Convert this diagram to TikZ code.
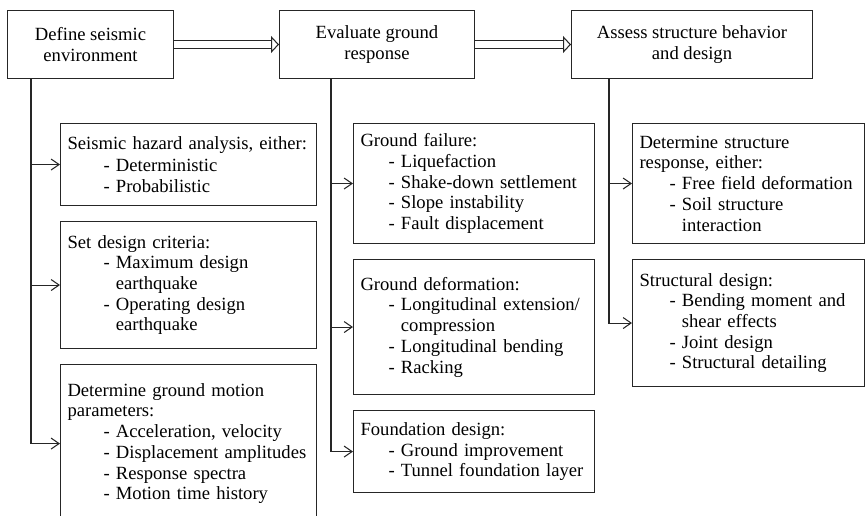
\documentclass[tikz,border=0pt]{standalone}
\usepackage{fontspec}
\setmainfont{Liberation Serif}
\usetikzlibrary{arrows.meta,positioning}

\newlength{\dashindent}
\newcommand{\itm}[1]{\\\hspace*{\dashindent}- #1}
\newcommand{\more}[1]{\\\hspace*{\dashindent}\hphantom{- }#1}

\begin{document}
\begin{tikzpicture}[x=0.02cm,y=-0.02cm,line width=0.6pt,
    font=\fontsize{10.6}{11.8}\selectfont]
  % Colors
  \colorlet{linecolor}{black!85}

  % Styles
  \tikzstyle{stage}=[draw=linecolor,anchor=north west,align=center,
    minimum height=1.36cm,inner sep=0pt]
  \tikzstyle{task}=[draw=linecolor,anchor=north west,align=left,
    inner xsep=0.14cm,inner ysep=0pt]
  \tikzstyle{col one}=[task,text width=4.84cm,
    execute at begin node={\setlength{\dashindent}{0.72cm}}]
  \tikzstyle{col two}=[task,text width=4.54cm,
    execute at begin node={\setlength{\dashindent}{0.56cm}}]
  \tikzstyle{col three}=[task,text width=4.36cm,
    execute at begin node={\setlength{\dashindent}{0.6cm}}]
  \tikzstyle{flow}=[draw=linecolor,double,double distance=0.14cm,
    -{Triangle[open,length=1.6mm,width=3.4mm]}]
  \tikzstyle{branch}=[draw=linecolor,-{Straight Barb[length=1.6mm,width=2.2mm]}]

  \useasboundingbox (0,0) rectangle (865,516);

  % The three stages
  \node[stage,minimum width=3.32cm] (env) at (7,10)
    {Define seismic\\environment};
  \node[stage,minimum width=3.9cm] (ground) at (279,10)
    {Evaluate ground\\response};
  \node[stage,minimum width=4.82cm] (struct) at (571,10)
    {Assess structure behavior\\and design};

  \draw[flow] (env) -- (ground);
  \draw[flow] (ground) -- (struct);

  % Seismic environment
  \node[col one,minimum height=1.64cm] (hazard) at (60,123)
    {Seismic hazard analysis, either:\\[1pt]\hspace*{0.72cm}- Deterministic\itm{Probabilistic}};
  \node[col one,minimum height=2.54cm,below=0.3cm of hazard.south west,anchor=north west] (criteria)
    {Set design criteria:\itm{Maximum design}\more{earthquake}\itm{Operating design}\more{earthquake}};
  \node[col one,minimum height=3.16cm,below=0.3cm of criteria.south west,anchor=north west] (motion)
    {Determine ground motion\\parameters:\itm{Acceleration, velocity}\itm{Displacement amplitudes}%
     \itm{Response spectra}\itm{Motion time history}};

  % Ground response
  \node[col two,minimum height=2.4cm] (failure) at (353,123)
    {Ground failure:\itm{Liquefaction}\itm{Shake-down settlement}\itm{Slope instability}%
     \itm{Fault displacement}};
  \node[col two,minimum height=2.7cm,below=0.3cm of failure.south west,anchor=north west] (deform)
    {Ground deformation:\itm{Longitudinal extension/}\more{compression}%
     \itm{Longitudinal bending}\itm{Racking}};
  \node[col two,minimum height=1.64cm,below=0.3cm of deform.south west,anchor=north west] (found)
    {Foundation design:\itm{Ground improvement}\itm{Tunnel foundation layer}};

  % Structure behavior
  \node[col three,minimum height=2.4cm] (resp) at (632,123)
    {Determine structure\\response, either:\itm{Free field deformation}\itm{Soil structure}%
     \more{interaction}};
  \node[col three,minimum height=2.54cm,below=0.3cm of resp.south west,anchor=north west] (design)
    {Structural design:\itm{Bending moment and}\more{shear effects}\itm{Joint design}%
     \itm{Structural detailing}};

  % Branches
  \coordinate (envtrunk) at ([xshift=0.48cm]env.south west);
  \coordinate (groundtrunk) at ([xshift=1.04cm]ground.south west);
  \coordinate (structtrunk) at ([xshift=0.76cm]struct.south west);

  \foreach \sub in {hazard,criteria,motion}
    \draw[branch] (envtrunk) |- (\sub.west);
  \foreach \sub in {failure,deform,found}
    \draw[branch] (groundtrunk) |- (\sub.west);
  \foreach \sub in {resp,design}
    \draw[branch] (structtrunk) |- (\sub.west);
\end{tikzpicture}
\end{document}
